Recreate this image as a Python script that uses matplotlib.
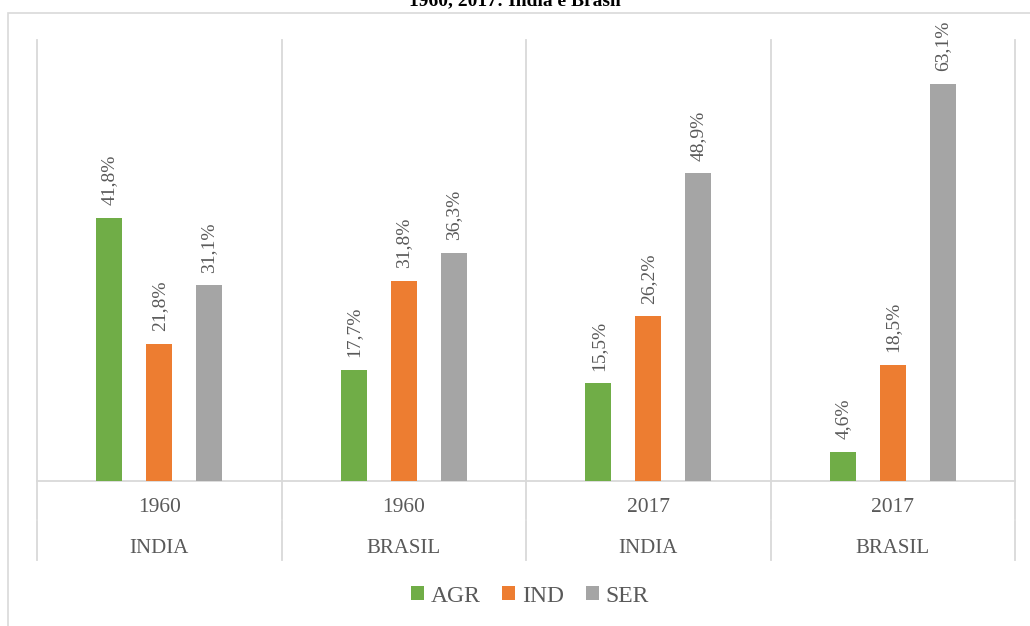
import matplotlib.pyplot as plt
import matplotlib.patches as mpatches
import numpy as np

plt.rcParams['font.family'] = ['Liberation Serif', 'DejaVu Serif']

# data
years = ['1960', '1960', '2017', '2017']
countries = ['INDIA', 'BRASIL', 'INDIA', 'BRASIL']
series = ['AGR', 'IND', 'SER']
agr = [41.8, 17.7, 15.5, 4.6]
ind = [21.8, 31.8, 26.2, 18.5]
ser = [31.1, 36.3, 48.9, 63.1]
colors = ['#70AD47', '#ED7D31', '#A5A5A5']

W, H = 1030, 626
fig = plt.figure(figsize=(W / 100, H / 100), dpi=100)

# outer chart frame (cut off at the bottom/right like the reference)
fig.patches.append(mpatches.Rectangle((8 / W, -0.1), 1.2, 1 - 13 / H + 0.1,
                                      transform=fig.transFigure, fill=False,
                                      edgecolor='#D9D9D9', lw=1.2))

# title, mostly cropped off the top of the picture
fig.text(515 / W, 1 - 9 / H, '1960, 2017: India e Brasil', ha='center', va='bottom',
         fontsize=14, fontweight='bold', color='black')

ax = fig.add_axes([37 / W, 1 - 481 / H, (1015 - 37) / W, (481 - 40) / H])
ax.set_xlim(0, 4)
ax.set_ylim(0, 70.1)
for s in ax.spines.values():
    s.set_visible(False)
ax.set_xticks([])
ax.set_yticks([])

x = np.arange(4) + 0.5
offsets = [-0.204, 0, 0.204]
bw = 0.106
for vals, off, c, name in zip([agr, ind, ser], offsets, colors, series):
    ax.bar(x + off, vals, width=bw, color=c, label=name, zorder=3)
    for xi, v in zip(x + off, vals):
        ax.text(xi, v + 2.0, f'{v:.1f}%'.replace('.', ','), rotation=90,
                ha='center', va='bottom', fontsize=14, color='#595959')

# baseline and category separators
ax.plot([0, 4], [0, 0], color='#D9D9D9', lw=1.3, clip_on=False, zorder=2)
for xv in range(5):
    ax.plot([xv, xv], [0, 70.1], color='#D9D9D9', lw=1.3, clip_on=False, zorder=1)
    ax.plot([xv, xv], [0, -6.0], color='#D9D9D9', lw=1.3, clip_on=False)
    ax.plot([xv, xv], [-6.4, -12.6], color='#D9D9D9', lw=1.3, clip_on=False)

for xi, yr, ct in zip(x, years, countries):
    ax.text(xi, -4.2, yr, ha='center', va='center', fontsize=15.5, color='#595959')
    ax.text(xi, -10.7, ct, ha='center', va='center', fontsize=15, color='#595959')

leg = fig.legend(loc='center', bbox_to_anchor=(530 / W, 1 - 596 / H), ncol=3,
                 frameon=False, fontsize=17, handlelength=0.55, handleheight=0.55,
                 handletextpad=0.3, columnspacing=0.9)
for t in leg.get_texts():
    t.set_color('#595959')

fig.savefig('out.png', dpi=100)
